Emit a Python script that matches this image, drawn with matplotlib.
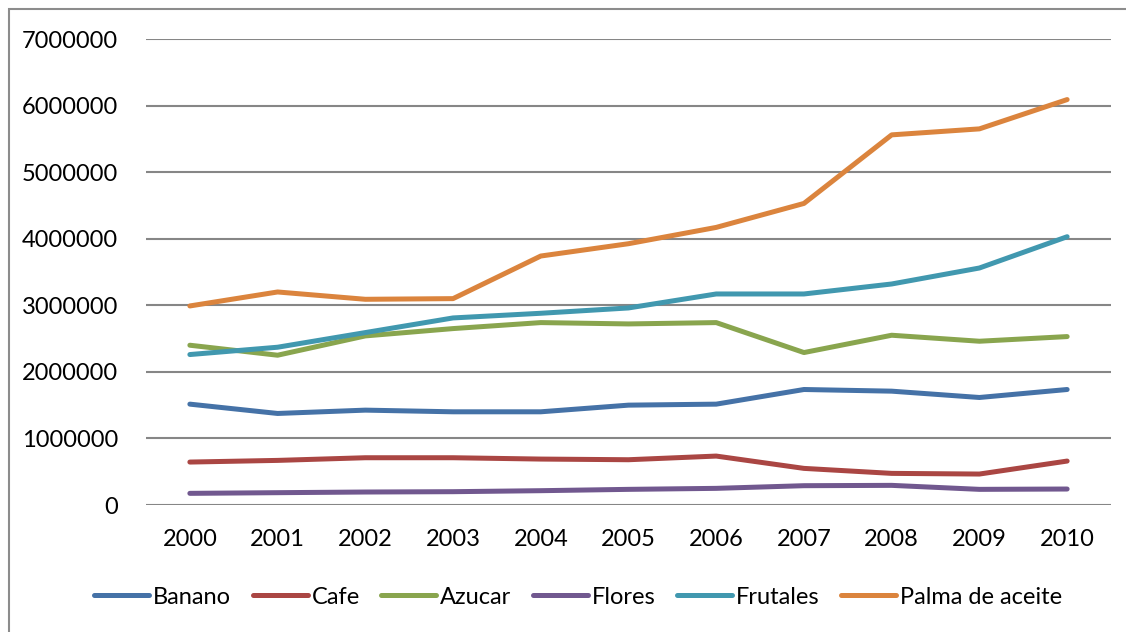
import matplotlib
matplotlib.use("Agg")
import matplotlib.pyplot as plt
from matplotlib.patches import Rectangle

years = ["2000", "2001", "2002", "2003", "2004", "2005", "2006", "2007", "2008", "2009", "2010"]
banano = [1515000, 1375000, 1425000, 1400000, 1400000, 1500000, 1515000, 1735000, 1710000, 1615000, 1735000]
cafe = [645000, 670000, 710000, 710000, 690000, 680000, 735000, 550000, 475000, 465000, 660000]
azucar = [2400000, 2250000, 2540000, 2650000, 2740000, 2720000, 2740000, 2290000, 2550000, 2460000, 2530000]
flores = [175000, 185000, 195000, 200000, 215000, 235000, 250000, 290000, 295000, 235000, 240000]
frutales = [2260000, 2370000, 2590000, 2810000, 2880000, 2960000, 3170000, 3170000, 3320000, 3560000, 4030000]
palma = [2990000, 3200000, 3090000, 3100000, 3740000, 3925000, 4170000, 4530000, 5560000, 5650000, 6090000]

series_names = ["Banano", "Cafe", "Azucar", "Flores", "Frutales", "Palma de aceite"]
series_values = [banano, cafe, azucar, flores, frutales, palma]
colors = ["#4572A7", "#AA4643", "#89A54E", "#71588F", "#4198AF", "#DB843D"]
yticks = [0, 1000000, 2000000, 3000000, 4000000, 5000000, 6000000, 7000000]

plt.rcParams['font.family'] = ['Lato', 'DejaVu Sans']

W, H = 1126, 632
FS = 17
LW = 3.6
fig = plt.figure(figsize=(W / 100, H / 100), dpi=100)
fig.patches.append(Rectangle((9 / W, -0.1), 1.2, 1 - 9 / H + 0.1, transform=fig.transFigure,
                             fill=False, edgecolor="#8c8c8c", linewidth=1.5))

ax = fig.add_axes([146 / W, 1 - 505 / H, (1111 - 146) / W, (505 - 39) / H])
x = list(range(len(years)))
for name, vals, c in zip(series_names, series_values, colors):
    ax.plot(x, vals, color=c, linewidth=LW, label=name, solid_capstyle="round", solid_joinstyle="round")

ax.set_xlim(-0.5, len(years) - 0.5)
ax.set_ylim(0, 7000000)
ax.set_yticks(yticks)
ax.set_yticklabels([str(v) for v in yticks])
ax.set_xticks(x)
ax.set_xticklabels(years)
ax.tick_params(axis="both", length=0, labelsize=FS, colors="black")
ax.tick_params(axis="y", pad=20)
ax.tick_params(axis="x", pad=17)
ax.grid(axis="y", color="#868686", linewidth=1.5)
ax.set_axisbelow(True)
for s in ax.spines.values():
    s.set_visible(False)

leg = fig.legend(loc="center", bbox_to_anchor=(578 / W, 1 - 597 / H), ncol=6, frameon=False,
                 fontsize=FS, handlelength=2.33, handletextpad=0.17, columnspacing=0.9)
for line in leg.get_lines():
    line.set_linewidth(LW)

fig.savefig("out.png", dpi=100)
